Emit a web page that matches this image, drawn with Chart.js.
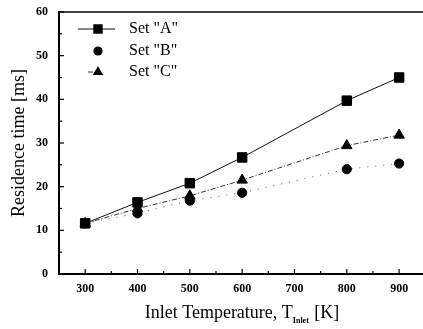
<!DOCTYPE html>
<html>
<head>
<meta charset="utf-8">
<script src="https://cdn.jsdelivr.net/npm/chart.js@4"></script>
<style>
   html, body { margin: 0; padding: 0; background: #ffffff; overflow: hidden; }
   canvas { display: block; }
</style>
</head>
<body>
<canvas id="residence" width="433" height="329"></canvas>
<script>
// data
const temps = [300, 400, 500, 600, 800, 900];
const setA = [11.6, 16.4, 20.8, 26.7, 39.7, 45.0];
const setB = [11.6, 13.9, 16.8, 18.6, 24.0, 25.3];
const setC = [11.6, 15.0, 17.9, 21.5, 29.4, 31.8];
const xTicks = [300, 400, 500, 600, 700, 800, 900];
const yTicks = [0, 10, 20, 30, 40, 50, 60];
const seriesNames = ['Set "A"', 'Set "B"', 'Set "C"'];

const serif = "'Liberation Serif', 'DejaVu Serif', serif";

function toPoints(values) {
   return temps.map((t, i) => ({ x: t, y: values[i] }));
}

function drawMarker(ctx, style, x, y, r) {
   ctx.beginPath();
   if (style === 'rect') {
      const s = r * Math.SQRT1_2;
      ctx.rect(x - s, y - s, 2 * s, 2 * s);
   } else if (style === 'triangle') {
      ctx.moveTo(x, y - r);
      ctx.lineTo(x + r * 0.866, y + r * 0.5);
      ctx.lineTo(x - r * 0.866, y + r * 0.5);
      ctx.closePath();
   } else {
      ctx.arc(x, y, r, 0, Math.PI * 2);
   }
   ctx.fill();
}

// inward tick marks, top frame line, legend and x title
const decorations = {
   id: 'decorations',
   afterDraw(chart) {
      const ctx = chart.ctx;
      const area = chart.chartArea;
      const xs = chart.scales.x;
      const ys = chart.scales.y;
      ctx.save();
      ctx.strokeStyle = '#000';
      ctx.lineWidth = 1.5;

      // top frame
      ctx.beginPath();
      ctx.moveTo(area.left, area.top);
      ctx.lineTo(area.right, area.top);
      ctx.stroke();

      ctx.lineWidth = 1.2;
      for (let v = 250; v <= 950; v += 50) {
         const len = xTicks.includes(v) ? 5 : 3;
         const px = xs.getPixelForValue(v);
         ctx.beginPath();
         ctx.moveTo(px, area.bottom);
         ctx.lineTo(px, area.bottom - len);
         ctx.stroke();
      }
      for (let v = 0; v <= 60; v += 5) {
         const len = yTicks.includes(v) ? 5 : 3;
         const py = ys.getPixelForValue(v);
         ctx.beginPath();
         ctx.moveTo(area.left, py);
         ctx.lineTo(area.left + len, py);
         ctx.stroke();
      }

      // legend
      const legendY = [29, 51, 72];
      chart.data.datasets.forEach((ds, i) => {
         const y = legendY[i];
         ctx.strokeStyle = ds.borderColor;
         ctx.lineWidth = ds.borderWidth;
         ctx.setLineDash(ds.borderDash || []);
         if (i !== 1) {
            ctx.beginPath();
            ctx.moveTo(i === 0 ? 78 : 88, y);
            ctx.lineTo(i === 0 ? 115 : 98, y);
            ctx.stroke();
         }
         ctx.setLineDash([]);
         ctx.fillStyle = '#000';
         drawMarker(ctx, ds.pointStyle, 98, y, ds.pointRadius);
         ctx.font = '16px ' + serif;
         ctx.textBaseline = 'middle';
         ctx.textAlign = 'left';
         ctx.fillText(ds.label, 129, y);
      });

      // x axis title with subscript
      ctx.fillStyle = '#000';
      ctx.textBaseline = 'alphabetic';
      const main = 'Inlet Temperature, T';
      const tail = ' [K]';
      ctx.font = 'bold 8px ' + serif;
      const subW = ctx.measureText('Inlet').width;
      ctx.font = '18px ' + serif;
      const total = ctx.measureText(main).width + subW + 1 + ctx.measureText(tail).width;
      let x = 242 - total / 2;
      const base = 318;
      ctx.fillText(main, x, base);
      x += ctx.measureText(main).width;
      ctx.font = 'bold 8px ' + serif;
      ctx.fillText('Inlet', x, base + 5);
      x += subW + 1;
      ctx.font = '18px ' + serif;
      ctx.fillText(tail, x, base);
      ctx.restore();
   }
};

new Chart(document.getElementById('residence'), {
   type: 'line',
   data: {
      datasets: [
         {
            label: seriesNames[0],
            data: toPoints(setA),
            borderColor: '#111',
            borderWidth: 1,
            pointStyle: 'rect',
            pointRadius: 6.7,
            backgroundColor: '#000',
            pointBorderColor: '#000',
            tension: 0
         },
         {
            label: seriesNames[1],
            data: toPoints(setB),
            borderColor: '#555',
            borderWidth: 1,
            borderDash: [1, 7],
            pointStyle: 'circle',
            pointRadius: 4.6,
            backgroundColor: '#000',
            pointBorderColor: '#000',
            tension: 0
         },
         {
            label: seriesNames[2],
            data: toPoints(setC),
            borderColor: '#333',
            borderWidth: 1,
            borderDash: [5, 2, 1, 2],
            pointStyle: 'triangle',
            pointRadius: 6,
            backgroundColor: '#000',
            pointBorderColor: '#000',
            tension: 0
         }
      ]
   },
   options: {
      responsive: false,
      animation: false,
      layout: { padding: { left: 0, top: 0, right: 0, bottom: 0 } },
      plugins: {
         legend: { display: false },
         tooltip: { enabled: false }
      },
      scales: {
         x: {
            type: 'linear',
            min: 250,
            max: 950,
            afterBuildTicks: scale => { scale.ticks = xTicks.map(v => ({ value: v })); },
            afterFit: scale => { scale.height = 55; },
            grid: { display: false, drawTicks: false },
            border: { display: true, color: '#000', width: 2 },
            ticks: {
               padding: 8,
               color: '#000',
               font: { family: serif, size: 12, weight: 'bold' }
            }
         },
         y: {
            min: 0,
            max: 60,
            afterBuildTicks: scale => { scale.ticks = yTicks.map(v => ({ value: v })); },
            afterFit: scale => {
               scale.width = 59;
               scale.paddingTop = 12;
               scale.paddingBottom = 0;
            },
            grid: { display: false, drawTicks: false },
            border: { display: true, color: '#000', width: 2 },
            ticks: {
               padding: 11,
               color: '#000',
               font: { family: serif, size: 12, weight: 'bold' }
            },
            title: {
               display: true,
               text: 'Residence time [ms]',
               color: '#000',
               padding: { top: 8, bottom: 0 },
               font: { family: serif, size: 18 }
            }
         }
      }
   },
   plugins: [decorations]
});
</script>
</body>
</html>
